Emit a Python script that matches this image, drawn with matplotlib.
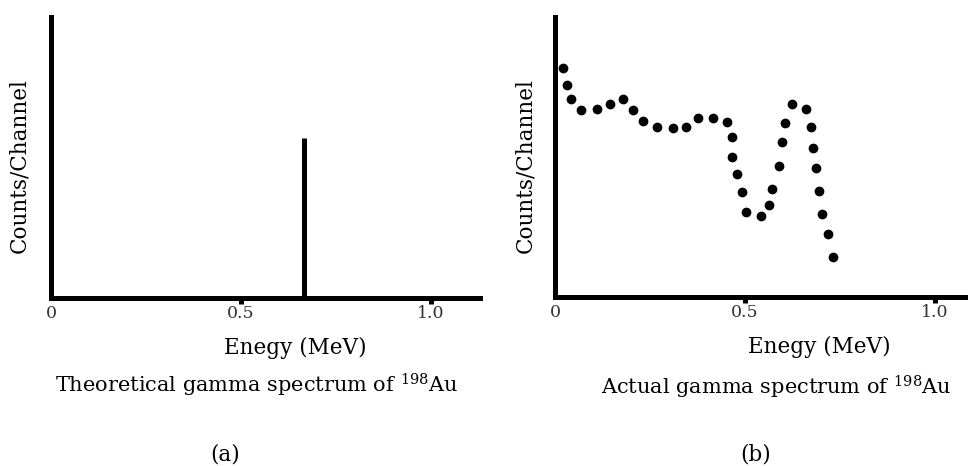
import numpy as np
import matplotlib.pyplot as plt

plt.rcParams['font.family'] = ['DejaVu Serif']
plt.rcParams['mathtext.fontset'] = 'dejavuserif'

# Panel (a): theoretical line spectrum
linea_energia = [0.666]
linea_cuentas = [57]

energia = [0.022, 0.031, 0.042, 0.069, 0.110, 0.144, 0.180, 0.204, 0.232,
           0.268, 0.311, 0.344, 0.377, 0.417, 0.452, 0.465, 0.467, 0.479,
           0.491, 0.504, 0.541, 0.562, 0.570, 0.590, 0.597, 0.606, 0.623,
           0.660, 0.674, 0.680, 0.688, 0.695, 0.703, 0.718, 0.733]
cuentas = [81.7, 75.8, 70.7, 66.9, 67.1, 68.9, 70.7, 66.7, 63.0,
           60.6, 60.4, 60.6, 63.9, 63.9, 62.5, 57.0, 49.9, 43.9,
           37.4, 30.4, 28.9, 33.0, 38.7, 46.7, 55.5, 62.3, 68.9,
           67.1, 60.7, 53.1, 46.2, 37.9, 29.8, 22.4, 14.4]

ticks = [0, 0.5, 1.0]
tick_labels = ['0', '0.5', '1.0']

fig = plt.figure(figsize=(9.68, 4.66), dpi=100)
ax1 = fig.add_axes([51/968, 168/466, 429/968, 281/466])
ax2 = fig.add_axes([555/968, 169/466, 413/968, 280/466])


def estilo(ax, xmax, xlab_pos, ylab_x):
    ax.set_xlim(0, xmax)
    ax.set_ylim(0, 100)
    for s in ['top', 'right']:
        ax.spines[s].set_visible(False)
    for s in ['left', 'bottom']:
        ax.spines[s].set_linewidth(3.6)
        ax.spines[s].set_capstyle('projecting')
    ax.set_yticks([])
    ax.set_xticks(ticks)
    ax.set_xticklabels(tick_labels, fontsize=12.5, color='#333333')
    ax.tick_params(axis='x', direction='out', length=4, width=3.6, pad=1)
    ax.get_xticklines()[0].set_visible(False)
    ax.set_ylabel('Counts/Channel', fontsize=15.5)
    ax.yaxis.set_label_coords(ylab_x, 0.47)
    ax.set_xlabel('Enegy (MeV)', fontsize=15.5, labelpad=4)
    ax.xaxis.set_label_coords(xlab_pos, -0.14)


estilo(ax1, 1.129, 0.57, -0.049)
estilo(ax2, 1.087, 0.64, -0.046)

ax1.vlines(linea_energia, 0, linea_cuentas, color='black', linewidth=3.6)
ax2.plot(energia, cuentas, 'o', color='black', markersize=6, clip_on=False)

fig.text(257/968, 1 - 385/466, r'Theoretical gamma spectrum of $^{\mathrm{198}}$Au',
         ha='center', va='center', fontsize=15)
fig.text(776/968, 1 - 387/466, r'Actual gamma spectrum of $^{\mathrm{198}}$Au',
         ha='center', va='center', fontsize=15)
fig.text(225/968, 1 - 455/466, '(a)', ha='center', va='center', fontsize=15.5)
fig.text(756/968, 1 - 455/466, '(b)', ha='center', va='center', fontsize=15.5)

fig.savefig('out.png', dpi=100)
